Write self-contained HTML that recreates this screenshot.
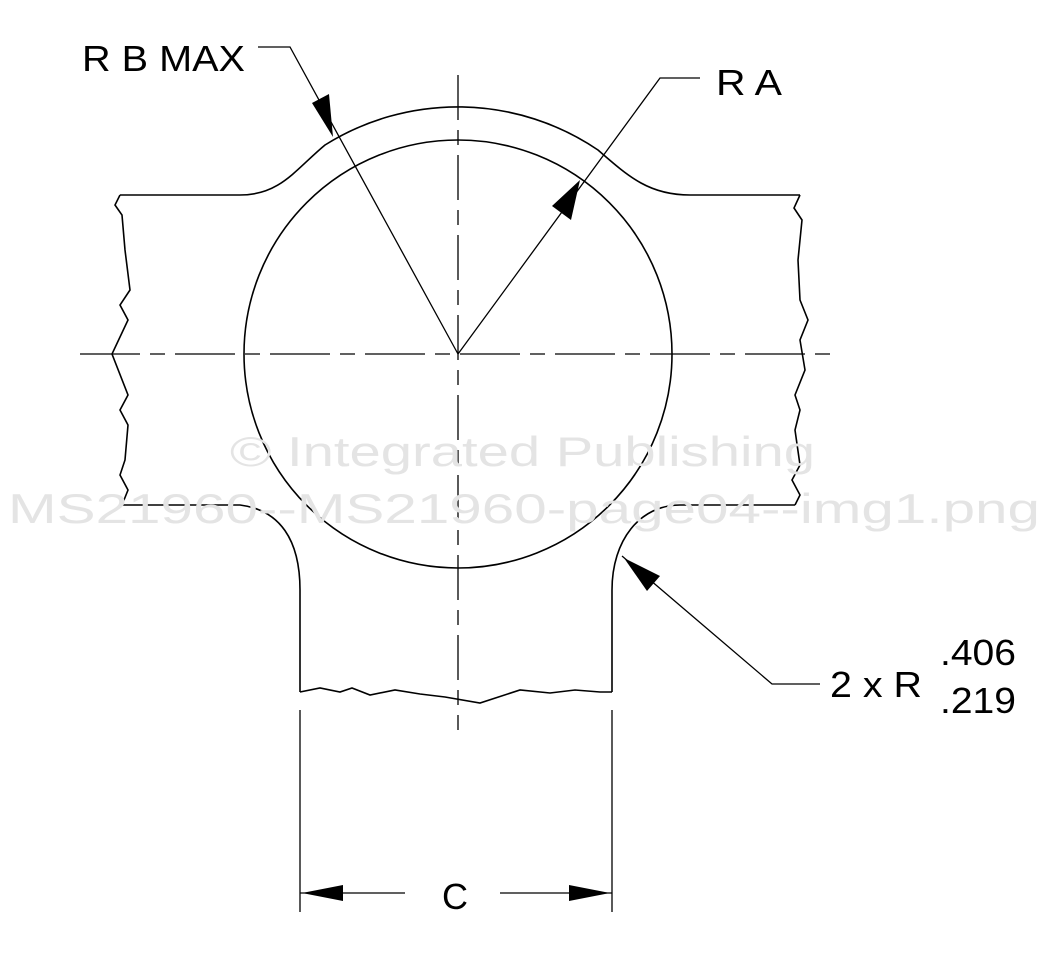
<!DOCTYPE html>
<html><head><meta charset="utf-8"><style>
html,body{margin:0;padding:0;background:#fff;}
svg{display:block;}
text{font-family:"Liberation Sans",Arial,sans-serif;}
</style></head><body>
<svg width="1047" height="959" viewBox="0 0 1047 959" xmlns="http://www.w3.org/2000/svg">
<g fill="none" stroke="#000" stroke-width="1.6">
<path d="M120,195 L240,195 C280,195 295,170 325,145 A250,250 0 0 1 598,150 C630,178 650,195 690,195 L800,195"/>
<path d="M120,195 L115,205 L122,215 L125,250 L130,290 L120,305 L128,320 L112,354 L128,395 L120,410 L128,425 L125,460 L120,475 L128,490 L122,505"/>
<path d="M800,195 L794,208 L802,220 L798,260 L800,300 L808,320 L800,340 L805,370 L795,395 L800,410 L795,430 L800,465 L792,480 L800,495 L795,505"/>
<path d="M122,505 L240,505 C280,510 300,540 300,590 L300,692"/>
<path d="M795,505 L680,505 C640,505 612,540 612,590 L612,692"/>
<path d="M300,692 L320,688 L340,692 L352,688 L370,695 L395,690 L420,694 L445,697 L480,703 L520,690 L550,693 L575,690 L600,692 L612,692"/>
<circle cx="458" cy="354" r="214"/>
</g>
<g stroke="#000" stroke-width="1.3" fill="none">
<line x1="80" y1="354" x2="838" y2="354" stroke-dasharray="60,10,15,10"/>
<line x1="458" y1="75" x2="458" y2="730" stroke-dasharray="45,10,15,10"/>
</g>
<g stroke="#000" stroke-width="1.3" fill="none">
<polyline points="258,47 290,47 458,354"/>
<polyline points="458,354 660,78 700,78"/>
<polyline points="622,556 772,684 820,684"/>
<line x1="300" y1="710" x2="300" y2="912"/>
<line x1="612" y1="710" x2="612" y2="912"/>
<line x1="300" y1="893" x2="405" y2="893"/>
<line x1="500" y1="893" x2="612" y2="893"/>
</g>
<g fill="#000">
<polygon points="333,137 312,103 329,94"/>
<polygon points="580,180 571,220 552,206"/>
<polygon points="624,558 660,576 647,591"/>
<polygon points="302,893 343,885 343,901"/>
<polygon points="610,893 569,885 569,901"/>
</g>
<g fill="#e4e4e4" font-size="42">
<text x="230" y="466" textLength="585" lengthAdjust="spacingAndGlyphs">© Integrated Publishing</text>
<text x="8" y="523" textLength="1032" lengthAdjust="spacingAndGlyphs">MS21960--MS21960-page04--img1.png</text>
</g>
<g fill="#000" font-size="36" lengthAdjust="spacingAndGlyphs">
<text x="82" y="71" textLength="163" lengthAdjust="spacingAndGlyphs">R B MAX</text>
<text x="716" y="95" textLength="66" lengthAdjust="spacingAndGlyphs">R A</text>
<text x="830" y="697" textLength="92" lengthAdjust="spacingAndGlyphs">2 x R</text>
<text x="940" y="665" textLength="76" lengthAdjust="spacingAndGlyphs">.406</text>
<text x="940" y="713" textLength="76" lengthAdjust="spacingAndGlyphs">.219</text>
<text x="442" y="909" textLength="26" lengthAdjust="spacingAndGlyphs">C</text>
</g>
</svg>
</body></html>
